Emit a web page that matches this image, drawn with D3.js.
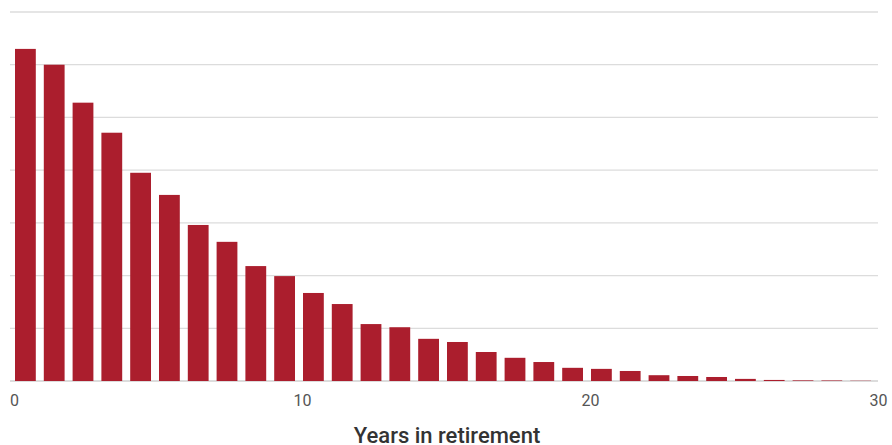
<!DOCTYPE html>
<html>
<head>
<meta charset="utf-8">
<script src="https://cdn.jsdelivr.net/npm/d3@7"></script>
<style>
  body { margin: 0; background: #fff; }
  svg { display: block; }
</style>
</head>
<body>
<svg id="chart"></svg>
<script>
const width = 892;
const height = 445;

// year index (bin start) and bar height
const years = d3.range(0, 30);
const values = [6.30, 6.00, 5.28, 4.71, 3.95, 3.53, 2.96, 2.64, 2.18, 1.99,
                1.67, 1.46, 1.08, 1.02, 0.80, 0.74, 0.55, 0.44, 0.36, 0.25,
                0.23, 0.19, 0.11, 0.095, 0.076, 0.04, 0.02, 0.012, 0.01, 0.005];
const gridVals = [0, 1, 2, 3, 4, 5, 6, 7];
const xTicks = [0, 10, 20, 30];
const xTitle = 'Years in retirement';

const x = d3.scaleLinear().domain([0, 30]).range([14, 878]);
const y = d3.scaleLinear().domain([0, 7]).range([381, 12]);

const svg = d3.select('#chart')
  .attr('width', width)
  .attr('height', height);

// gridlines
svg.append('g')
  .selectAll('line')
  .data(gridVals)
  .join('line')
    .attr('x1', 10)
    .attr('x2', 878)
    .attr('y1', d => y(d))
    .attr('y2', d => y(d))
    .style('stroke', '#dcdcdc')
    .style('stroke-width', d => d === 0 ? 2 : 1.3);

// bars
svg.append('g')
  .selectAll('rect')
  .data(years)
  .join('rect')
    .attr('x', d => x(d) + 1)
    .attr('width', d => x(d + 1) - x(d) - 8)
    .attr('y', (d, i) => y(values[i]))
    .attr('height', (d, i) => y(0) - y(values[i]))
    .style('fill', '#ab1e2d');

// x axis labels
const xAxis = svg.append('g')
  .attr('transform', `translate(0,${y(0)})`)
  .call(d3.axisBottom(x).tickValues(xTicks).tickSize(0).tickPadding(14));

xAxis.select('.domain').remove();
xAxis.selectAll('text')
  .style('font-family', 'Roboto')
  .style('font-size', '16px')
  .style('fill', '#555');

svg.append('text')
  .attr('x', 447)
  .attr('y', 443)
  .attr('text-anchor', 'middle')
  .style('font-family', 'Roboto')
  .style('font-weight', '500')
  .style('font-size', '22px')
  .style('fill', '#333')
  .text(xTitle);
</script>
</body>
</html>
